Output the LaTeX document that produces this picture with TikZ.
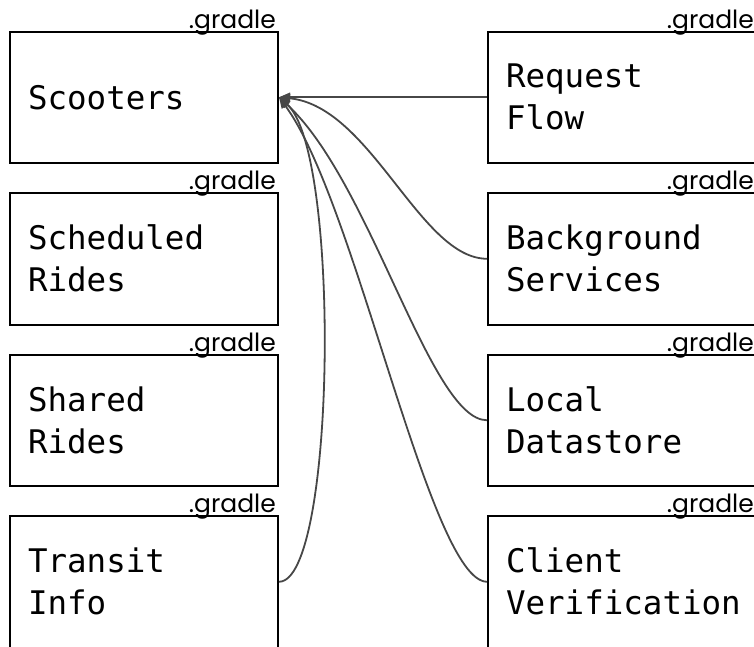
\documentclass[tikz,border=0pt]{standalone}
\usepackage{fontspec}
\setmonofont{DejaVu Sans Mono}
\newfontfamily\tagfont{Poppins}
\usetikzlibrary{arrows.meta}

\begin{document}
\begin{tikzpicture}[
  x=1pt, y=-1pt,
  tag/.style={anchor=base east, inner sep=0pt, xshift=-3pt, yshift=2.5pt, font=\tagfont\fontsize{25}{25}\selectfont},
  module/.style={rectangle, draw, line width=2pt, anchor=north west, minimum width=268pt, minimum height=131.5pt,
    text width=232pt, inner xsep=17.5pt, align=left, font=\ttfamily\fontsize{32.5}{42}\selectfont,
    label={[tag]north east:.gradle}},
  dep/.style={-{Triangle[length=11pt,width=9pt]}, line width=1.8pt, draw=black!72}
]
  \clip (0,0) rectangle (754,646);

  % app modules on the left
  \node[module] (scooters) at (9,30.5) {Scooters};
  \node[module] (scheduled) at (9,192) {Scheduled\\Rides};
  \node[module] (shared) at (9,353.5) {Shared\\Rides};
  \node[module] (transit) at (9,515) {Transit\\Info};

  % library modules on the right
  \node[module] (request) at (487,30.5) {Request\\Flow};
  \node[module] (background) at (487,192) {Background\\Services};
  \node[module] (datastore) at (487,353.5) {Local\\Datastore};
  \node[module] (verification) at (487,515) {Client\\Verification};

  % everything points back into scooters
  \draw[dep] (request.west) -- (scooters.east);
  \draw[dep] (background.west) .. controls +(-67,0) and +(92,9) .. (scooters.east);
  \draw[dep] (datastore.west) .. controls +(-57,0) and +(92,84) .. (scooters.east);
  \draw[dep] (verification.west) .. controls +(-57,0) and +(77,104) .. (scooters.east);
  \draw[dep] (transit.east) .. controls +(57,0) and +(62,54) .. (scooters.east);
\end{tikzpicture}
\end{document}
